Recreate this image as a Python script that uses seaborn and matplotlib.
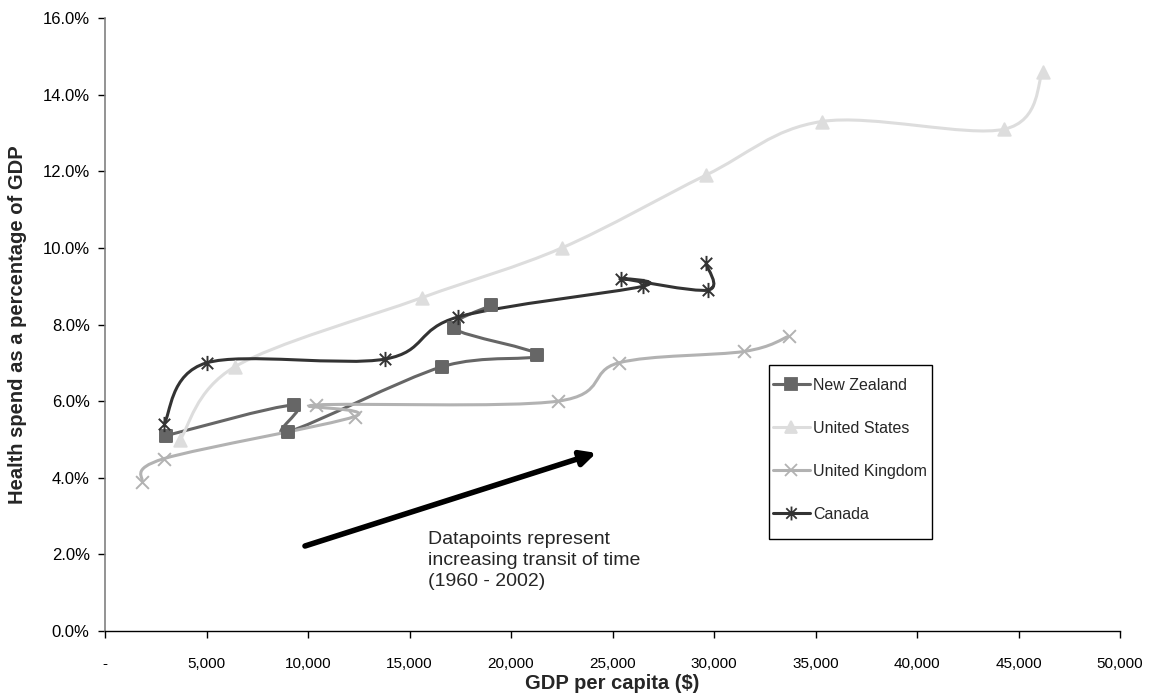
import matplotlib
matplotlib.use("Agg")
import matplotlib.pyplot as plt
import numpy as np
import pandas as pd
import seaborn as sns
from matplotlib.lines import Line2D
from matplotlib.path import Path
from matplotlib.patches import PathPatch, Rectangle
from matplotlib.ticker import FuncFormatter, MultipleLocator

# GDP per capita ($) and health spend (% of GDP), 1960 - 2002
nz_gdp = [3000, 9300, 9000, 16600, 21300, 17200, 19000]
nz_health = [5.1, 5.9, 5.2, 6.9, 7.2, 7.9, 8.5]

us_gdp = [3700, 6400, 15600, 22500, 29600, 35300, 44300, 46200]
us_health = [5.0, 6.9, 8.7, 10.0, 11.9, 13.3, 13.1, 14.6]

uk_gdp = [1800, 2900, 12300, 10400, 22300, 25300, 31500, 33700]
uk_health = [3.9, 4.5, 5.6, 5.9, 6.0, 7.0, 7.3, 7.7]

ca_gdp = [2900, 5000, 13800, 17400, 26500, 25400, 29700, 29600]
ca_health = [5.4, 7.0, 7.1, 8.2, 9.0, 9.2, 8.9, 9.6]

# Excel-like asterisk: an x with a vertical bar
asterisk = Path(
    [(-0.75, -0.75), (0.75, 0.75), (-0.75, 0.75), (0.75, -0.75), (0, -1), (0, 1)],
    [Path.MOVETO, Path.LINETO] * 3,
)

series = [
    ("New Zealand", nz_gdp, nz_health, "#666666", "s", 75, 8),
    ("United States", us_gdp, us_health, "#dddddd", "^", 80, 8),
    ("United Kingdom", uk_gdp, uk_health, "#b2b2b2", "x", 85, 9),
    ("Canada", ca_gdp, ca_health, "#333333", asterisk, 120, 10),
]


def smooth_path(xs, ys):
    # cubic Bezier through the points, like Excel's smoothed line
    pts = np.column_stack([xs, ys]).astype(float)
    n = len(pts)
    verts = [pts[0]]
    codes = [Path.MOVETO]
    for i in range(n - 1):
        p0 = pts[max(i - 1, 0)]
        p1 = pts[i]
        p2 = pts[i + 1]
        p3 = pts[min(i + 2, n - 1)]
        verts += [p1 + (p2 - p0) / 6, p2 - (p3 - p1) / 6, p2]
        codes += [Path.CURVE4] * 3
    return Path(verts, codes)


sns.set_style("white")
plt.rcParams["font.family"] = ["Liberation Sans", "DejaVu Sans"]

fig = plt.figure(figsize=(11.49, 6.95), dpi=100)
ax = fig.add_axes([0.0914, 0.092, 0.8834, 0.882])

handles = []
for name, gx, hy, color, marker, size, msize in series:
    ax.add_patch(PathPatch(smooth_path(gx, hy), facecolor="none",
                           edgecolor=color, lw=2.2, zorder=2))
    df = pd.DataFrame({"gdp": gx, "health": hy})
    sns.scatterplot(data=df, x="gdp", y="health", ax=ax, marker=marker,
                    s=size, color=color, edgecolor=color, linewidth=1.4,
                    zorder=3, legend=False)
    handles.append(Line2D([], [], color=color, lw=2.2, marker=marker,
                          markersize=msize, markerfacecolor=color,
                          markeredgecolor=color, markeredgewidth=1.3))

ax.set_xlim(0, 50000)
ax.set_ylim(0, 16)
ax.xaxis.set_major_locator(MultipleLocator(5000))
ax.yaxis.set_major_locator(MultipleLocator(2))
ax.xaxis.set_major_formatter(FuncFormatter(lambda v, p: "-" if v == 0 else f"{v:,.0f}"))
ax.yaxis.set_major_formatter(FuncFormatter(lambda v, p: f"{v:.1f}%"))
ax.tick_params(axis="both", direction="out", length=5, width=1, labelsize=12,
               colors="black", bottom=True, left=True)
ax.tick_params(axis="x", pad=14, labelsize=11)
ax.tick_params(axis="y", pad=6)
for side in ["top", "right"]:
    ax.spines[side].set_visible(False)
ax.spines["left"].set_color("#808080")
ax.spines["bottom"].set_color("black")
ax.spines["left"].set_linewidth(1.2)
ax.spines["bottom"].set_linewidth(1)

ax.set_xlabel("GDP per capita ($)", fontsize=14.5, fontweight="bold", va="center")
ax.set_ylabel("Health spend as a percentage of GDP", fontsize=14.5,
              fontweight="bold", va="center")
ax.xaxis.set_label_coords(0.5, -0.085)
ax.yaxis.set_label_coords(-0.0867, 0.5)

ax.annotate("", xy=(24200, 4.65), xytext=(9850, 2.22),
            arrowprops=dict(arrowstyle="-|>,head_length=0.9,head_width=0.45",
                            lw=4, color="black", shrinkA=0, shrinkB=0))
ax.text(15900, 2.6, "Datapoints represent\nincreasing transit of time\n(1960 - 2002)",
        fontsize=14, va="top", ha="left", linespacing=1.3)

# legend frame drawn separately: Excel pads the top more than the sides
ax.add_patch(Rectangle((0.654, 0.150), 0.161, 0.284, transform=ax.transAxes,
                       facecolor="white", edgecolor="black", lw=1,
                       clip_on=False, zorder=4))
leg = ax.legend(handles, [s[0] for s in series], loc="upper left",
                bbox_to_anchor=(0.658, 0.413), fontsize=11.5, frameon=False,
                labelspacing=1.75, handlelength=2.3, handletextpad=0.2,
                borderpad=0, borderaxespad=0)
leg.set_zorder(5)

fig.savefig("out.png", dpi=100, facecolor="white")
